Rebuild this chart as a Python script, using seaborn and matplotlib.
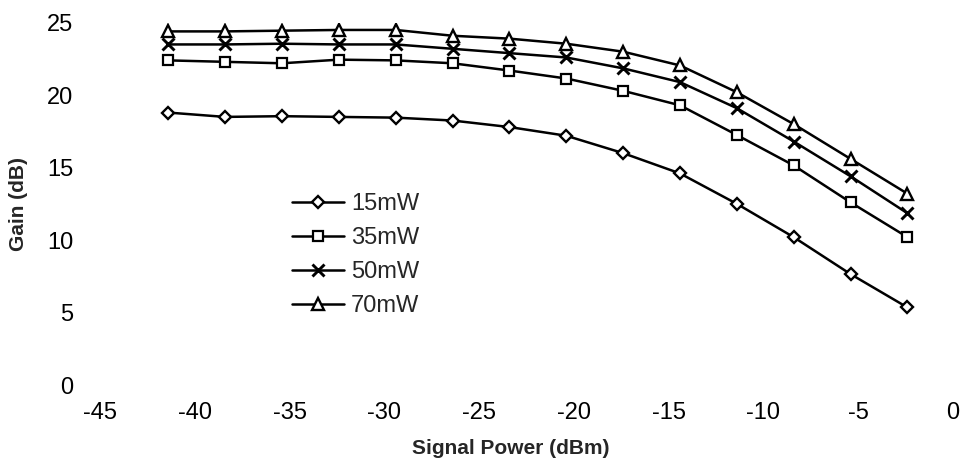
import matplotlib
matplotlib.use("Agg")
import matplotlib.pyplot as plt
import seaborn as sns
import pandas as pd

# Input signal power (dBm)
signal_power = [-41.4, -38.4, -35.4, -32.4, -29.4, -26.4, -23.4,
                -20.4, -17.4, -14.4, -11.4, -8.4, -5.4, -2.4]

# Gain (dB) for each pump power
gain_15mw = [18.8, 18.5, 18.55, 18.5, 18.45, 18.25, 17.8,
             17.2, 16.0, 14.6, 12.5, 10.2, 7.65, 5.35]
gain_35mw = [22.4, 22.3, 22.2, 22.45, 22.4, 22.2, 21.7,
             21.15, 20.3, 19.3, 17.25, 15.15, 12.6, 10.2]
gain_50mw = [23.5, 23.5, 23.55, 23.5, 23.5, 23.2, 22.9,
             22.6, 21.85, 20.9, 19.1, 16.8, 14.4, 11.85]
gain_70mw = [24.4, 24.4, 24.45, 24.5, 24.5, 24.1, 23.9,
             23.55, 23.0, 22.05, 20.2, 18.0, 15.6, 13.2]

pump_labels = ["15mW", "35mW", "50mW", "70mW"]
x_ticks = [-45, -40, -35, -30, -25, -20, -15, -10, -5, 0]
y_ticks = [0, 5, 10, 15, 20, 25]

series = [gain_15mw, gain_35mw, gain_50mw, gain_70mw]
df = pd.concat(
    [pd.DataFrame({"power": signal_power, "gain": g, "pump": lab})
     for g, lab in zip(series, pump_labels)],
    ignore_index=True,
)

sns.set_theme(style="white")
plt.rcParams["font.family"] = ["Liberation Sans", "DejaVu Sans"]
plt.rcParams["axes.unicode_minus"] = False

fig = plt.figure(figsize=(9.63, 4.73), dpi=100)
ax = fig.add_axes([0.1038, 0.186, 0.8858, 0.766])

# marker, marker size, edge width per pump power
marker_styles = {
    "15mW": ("D", 6.2, 1.7),
    "35mW": ("s", 7.5, 1.6),
    "50mW": ("x", 8.0, 2.1),
    "70mW": ("^", 8.0, 1.7),
}

for lab in pump_labels:
    mk, ms, mew = marker_styles[lab]
    sns.lineplot(
        data=df[df["pump"] == lab], x="power", y="gain",
        color="black", marker=mk, markersize=ms,
        markerfacecolor="white", markeredgecolor="black",
        markeredgewidth=mew, linewidth=1.8, legend=False, ax=ax,
        label=lab,
    )

ax.set_xlim(-45, 0)
ax.set_ylim(0, 25)
ax.set_xticks(x_ticks)
ax.set_yticks(y_ticks)
ax.set_xticklabels([str(t) for t in x_ticks])
ax.set_yticklabels([str(t) for t in y_ticks])

for side in ["top", "right", "left", "bottom"]:
    ax.spines[side].set_visible(False)

ax.tick_params(axis="both", which="major", labelsize=17, colors="#bbbbbb",
               labelcolor="black", length=2, width=1, direction="out")
ax.tick_params(axis="y", pad=17)
ax.tick_params(axis="x", pad=10)

ax.set_xlabel("Signal Power (dBm)", fontsize=15, fontweight="bold",
              labelpad=11, x=0.482)
ax.set_ylabel("Gain (dB)", fontsize=15, fontweight="bold", labelpad=14)

ax.legend(
    handles=ax.lines[:4], labels=pump_labels,
    loc="upper left", bbox_to_anchor=(0.303, 0.591),
    bbox_transform=fig.transFigure, frameon=False, fontsize=17,
    handlelength=2.2, handletextpad=0.3, labelspacing=0.5,
    borderpad=0, borderaxespad=0,
)

fig.savefig("out.png", dpi=100, facecolor="white")
